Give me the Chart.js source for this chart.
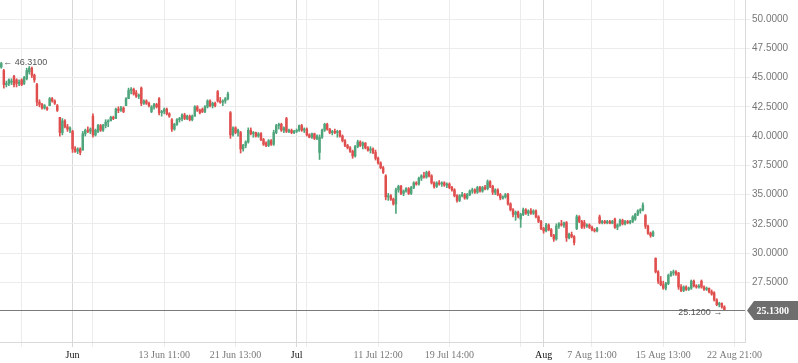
<!DOCTYPE html>
<html><head><meta charset="utf-8">
<script src="https://cdn.jsdelivr.net/npm/chart.js@4.4.1/dist/chart.umd.min.js"></script>
<style>html,body{margin:0;padding:0;background:#fff;overflow:hidden}#wrap{width:798px;height:363px}</style>
</head><body><div id="wrap"><canvas id="c" width="798" height="363"></canvas></div>
<script>
const opens=[
45.9,45.6,44.4,44.5,44.6,45.1,44.8,44.5,44.8,44.5,
44.9,45.5,45.8,45.2,44.4,42.9,42.7,42.4,42.4,42.6,
43.2,43.0,42.6,41.6,40.3,41.3,40.8,40.5,40.4,38.9,
38.7,38.9,38.8,40.2,40.5,40.4,41.7,40.1,40.4,40.9,
40.5,40.9,41.2,41.3,41.6,41.5,42.3,42.2,42.4,42.6,
43.2,43.9,44.0,43.7,43.4,44.1,42.8,43.0,42.8,42.1,
42.5,42.7,43.2,42.0,42.1,42.3,41.9,41.4,40.6,41.0,
41.4,41.5,41.8,41.5,41.7,41.4,41.7,42.5,42.2,42.3,
42.1,42.5,43.0,42.6,42.8,43.8,43.0,42.9,43.0,43.2,
42.0,40.1,40.7,40.3,40.3,38.9,39.2,39.5,40.5,40.2,
40.3,40.0,40.2,39.7,39.4,39.2,39.6,39.3,40.3,40.9,
41.0,40.5,41.5,40.4,40.5,40.3,40.4,40.5,40.9,40.5,
40.6,40.1,39.9,40.2,39.8,38.6,39.9,40.5,41.0,40.6,
40.3,40.4,40.3,40.4,40.0,39.6,39.2,39.0,38.7,38.3,
39.1,39.5,39.2,39.4,39.0,38.8,38.9,38.6,38.1,37.7,
37.3,36.6,34.8,34.9,34.6,34.2,35.4,35.7,35.1,35.3,
35.5,35.1,35.6,36.0,35.9,36.4,36.6,36.5,36.9,36.6,
36.0,35.7,36.0,35.9,36.0,35.8,35.9,35.6,35.4,34.9,
34.5,34.9,35.0,34.7,35.0,35.3,35.4,35.2,35.6,35.3,
35.6,35.5,36.1,35.7,35.2,35.4,35.0,34.7,34.8,35.0,
34.2,33.7,33.3,33.5,32.9,33.3,33.7,33.4,33.6,33.4,
33.6,33.1,32.7,32.1,31.9,32.4,32.0,31.5,31.2,32.3,
32.5,32.4,32.6,31.3,31.6,31.4,32.1,33.1,32.7,32.6,
32.3,32.4,32.2,32.0,31.9,33.1,32.6,32.7,32.6,32.7,
32.55,32.9,32.2,32.4,32.8,32.5,32.7,32.6,32.7,32.9,
33.3,33.6,33.7,33.2,32.3,31.7,31.5,29.55,28.4,27.6,
27.3,27.0,27.4,28.1,28.3,28.4,28.3,27.1,26.8,27.1,
26.9,27.0,27.6,27.2,27.1,27.6,27.1,26.9,27.0,26.7,
26.6,26.0,25.6,25.7,25.4];
const highs=[
46.31,45.7,44.7,44.9,44.9,45.2,44.9,44.8,44.9,45.1,
45.8,45.95,45.9,45.3,44.5,43.1,42.8,42.7,42.5,43.3,
43.3,43.1,42.7,41.6,41.5,41.4,41.0,40.8,40.5,39.1,
39.0,39.0,40.4,40.6,40.8,40.7,41.9,40.6,41.0,41.0,
41.0,41.4,41.4,41.7,41.7,42.4,42.5,42.55,42.5,43.3,
44.1,44.15,44.1,43.9,43.6,44.2,43.1,43.1,42.9,42.6,
42.8,42.8,43.3,42.2,42.4,42.4,42.0,41.5,41.1,41.5,
41.6,41.9,41.95,41.8,41.8,41.8,42.6,42.6,42.3,42.4,
42.6,43.1,43.1,42.9,42.9,43.9,43.3,43.1,43.3,43.75,
42.1,40.8,40.8,40.6,40.4,39.3,39.6,40.7,40.7,40.4,
40.35,40.3,40.3,39.8,39.5,39.7,39.7,40.5,41.0,41.1,
41.1,40.8,41.6,40.6,40.6,40.5,40.6,40.95,41.0,40.7,
40.7,40.2,40.25,40.25,40.1,40.1,40.6,41.1,41.1,40.65,
40.5,40.6,40.5,40.5,40.1,39.7,39.3,39.1,38.8,39.2,
39.65,39.6,39.5,39.45,39.1,39.1,39.0,38.8,38.2,37.8,
37.4,36.7,35.1,35.0,34.7,35.55,35.8,35.8,35.4,35.6,
35.6,35.7,36.1,36.1,36.5,36.7,36.9,37.0,37.0,36.7,
36.1,36.1,36.2,36.1,36.1,36.0,36.0,35.7,35.5,35.0,
35.0,35.2,35.1,35.1,35.4,35.55,35.5,35.7,35.7,35.7,
35.8,36.25,36.2,35.8,35.5,35.5,35.1,34.9,35.1,35.1,
34.3,33.8,33.6,33.6,33.4,33.85,33.8,33.7,33.8,33.7,
33.7,33.2,32.8,32.2,32.55,32.5,32.1,31.6,32.5,32.6,
32.8,32.65,32.7,31.7,31.8,31.5,33.25,33.2,32.8,32.8,
32.5,32.5,32.3,32.1,32.2,33.25,32.8,32.8,32.8,32.8,
32.8,33.0,32.5,32.9,32.9,32.8,32.8,32.8,33.2,33.4,
33.7,33.8,34.3,33.3,32.4,31.8,31.9,29.6,28.5,28.0,
27.6,27.5,28.2,28.45,28.55,28.5,28.35,27.3,27.2,27.2,
27.1,27.7,27.7,27.3,27.3,27.7,27.2,27.1,27.0,26.85,
26.7,26.1,25.8,25.75,25.5];
const lows=[
45.8,44.1,44.2,44.3,44.4,44.2,44.2,44.3,44.3,44.4,
44.8,45.3,45.0,44.6,42.6,42.5,42.3,42.3,42.2,42.6,
42.9,42.7,42.1,40.0,40.1,40.7,40.4,40.3,38.6,38.6,
38.5,38.4,38.8,40.0,40.3,40.2,39.9,40.0,40.3,40.4,
40.4,40.7,40.8,41.3,41.4,41.5,42.0,42.1,42.0,42.6,
43.2,43.6,43.5,43.3,43.2,42.6,42.7,42.7,42.5,42.0,
42.3,42.4,41.8,41.7,41.9,41.8,41.6,40.4,40.5,40.9,
41.2,41.3,41.4,41.4,41.3,41.3,41.7,42.1,41.9,42.0,
42.0,42.4,42.5,42.4,42.5,42.9,42.8,42.6,42.8,43.1,
39.8,40.0,40.2,40.0,38.55,38.7,39.0,39.4,40.1,39.9,
39.9,39.9,39.6,39.2,39.1,39.1,39.2,39.2,40.2,40.6,
40.4,40.3,40.3,40.3,40.2,40.2,40.3,40.4,40.4,40.3,
40.0,39.85,39.8,39.7,39.7,38.0,39.8,40.4,40.5,40.2,
40.1,40.2,39.9,39.9,39.5,39.1,38.9,38.6,38.1,38.2,
39.0,39.1,38.9,38.9,38.7,38.55,38.5,37.95,37.6,37.2,
36.8,34.55,34.5,34.5,34.1,33.4,35.2,35.0,34.9,35.2,
35.0,35.0,35.5,35.8,35.8,36.2,36.4,36.4,36.5,35.9,
35.55,35.6,35.8,35.7,35.7,35.6,35.5,35.3,34.8,34.35,
34.4,34.8,34.6,34.6,34.9,35.1,35.1,35.1,35.2,35.2,
35.4,35.4,35.6,35.0,35.0,34.9,34.55,34.6,34.7,34.1,
33.6,33.1,32.8,33.0,32.2,33.2,33.3,33.2,33.3,33.3,
33.0,32.6,32.0,31.7,31.8,31.9,31.4,31.0,31.1,32.1,
32.3,32.2,31.0,31.2,31.3,30.7,32.0,32.6,32.1,32.1,
32.2,32.1,31.9,31.8,31.8,32.5,32.5,32.5,32.5,32.5,
32.5,32.1,32.0,32.3,32.4,32.4,32.5,32.5,32.6,32.8,
33.2,33.4,33.6,32.1,31.6,31.35,31.4,28.3,27.4,27.2,
26.9,26.85,27.3,28.0,28.1,28.1,26.9,26.7,26.7,26.8,
26.8,26.9,27.1,27.0,27.0,27.0,26.8,26.8,26.6,26.4,
25.9,25.5,25.4,25.3,25.12];
const closes=[
46.2,44.4,44.5,44.8,44.7,44.4,44.5,44.6,44.4,45.0,
45.6,45.8,45.2,44.8,42.9,42.7,42.4,42.6,42.3,43.2,
43.0,42.8,42.2,40.3,41.3,40.8,40.6,40.7,38.9,38.7,
38.9,38.6,40.2,40.5,40.4,40.6,40.1,40.5,40.9,40.5,
40.9,41.2,41.3,41.6,41.5,42.3,42.2,42.4,42.1,43.2,
43.9,44.0,43.6,43.4,43.5,42.8,43.0,42.8,42.6,42.5,
42.7,42.5,42.0,42.1,42.3,41.9,41.7,40.6,41.0,41.4,
41.5,41.8,41.5,41.7,41.4,41.7,42.5,42.2,42.0,42.1,
42.5,43.0,42.6,42.8,42.6,43.0,42.9,43.0,43.2,43.6,
40.1,40.7,40.3,40.5,38.9,39.2,39.5,40.5,40.2,40.3,
40.0,40.2,39.7,39.3,39.2,39.6,39.3,40.3,40.9,41.0,
40.5,40.7,40.4,40.5,40.3,40.4,40.5,40.9,40.5,40.6,
40.1,39.9,40.2,39.8,40.0,39.9,40.5,41.0,40.6,40.3,
40.4,40.3,40.4,40.0,39.6,39.2,39.0,38.7,38.3,39.1,
39.5,39.2,39.4,39.0,38.8,38.9,38.6,38.1,37.7,37.3,
36.9,34.8,34.9,34.6,34.2,35.4,35.7,35.1,35.3,35.5,
35.1,35.6,36.0,35.9,36.4,36.6,36.5,36.9,36.6,36.0,
35.7,36.0,35.9,36.0,35.8,35.9,35.6,35.4,34.9,34.5,
34.9,35.0,34.7,35.0,35.3,35.4,35.2,35.6,35.3,35.6,
35.5,36.1,35.7,35.2,35.4,35.0,34.7,34.8,35.0,34.2,
33.7,33.3,33.5,33.1,33.3,33.7,33.4,33.6,33.4,33.6,
33.1,32.7,32.1,31.9,32.4,32.0,31.5,31.2,32.3,32.5,
32.4,32.6,31.3,31.6,31.4,30.9,33.1,32.7,32.2,32.3,
32.4,32.2,32.0,31.9,32.1,32.6,32.7,32.6,32.7,32.55,
32.7,32.2,32.4,32.8,32.5,32.7,32.6,32.7,33.1,33.3,
33.6,33.7,34.1,32.3,31.7,31.5,31.8,28.4,27.6,27.3,
27.0,27.4,28.1,28.3,28.4,28.2,27.1,26.8,27.1,26.9,
27.0,27.6,27.2,27.1,27.2,27.1,26.9,27.0,26.7,26.5,
26.0,25.6,25.7,25.4,25.13];

const xTickIndex=[8,28,36,64,92,116,120,148,176,204,213,232,260,288];
const xTickLabels=['','Jun','','13 Jun 11:00','21 Jun 13:00','Jul','','11 Jul 12:00','19 Jul 14:00','','Aug','7 Aug 11:00','15 Aug 13:00','22 Aug 21:00'];
const monthLabels=['Jun','Jul','Aug'];
const yTicks=[27.5,30,32.5,35,37.5,40,42.5,45,47.5,50];

const UP='#4fa57c', DOWN='#e04e4e';
const labelMap={}; xTickIndex.forEach((v,i)=>labelMap[v]=xTickLabels[i]);
const isMonth=v=>monthLabels.includes(labelMap[v]);
const candleColors=opens.map((o,i)=>closes[i]>=o?UP:DOWN);

const wickData=highs.map((h,i)=>({x:i,y:[lows[i],h]}));
const bodyData=opens.map((o,i)=>({x:i,y:[o,closes[i]]}));

const overlay={
  id:'overlay',
  afterDatasetsDraw(chart){
    const {ctx,chartArea,scales:{x,y}}=chart;
    const last=closes[closes.length-1];
    const py=Math.round(y.getPixelForValue(last))+0.5;
    ctx.save();
    ctx.strokeStyle='#7a7a7a'; ctx.lineWidth=1;
    ctx.beginPath(); ctx.moveTo(chartArea.left,py); ctx.lineTo(chartArea.right,py); ctx.stroke();
    const tx=chartArea.right+2, h=9.5;
    ctx.fillStyle='#6e6e6e';
    ctx.beginPath(); ctx.moveTo(tx,py); ctx.lineTo(tx+7,py-h); ctx.lineTo(798,py-h); ctx.lineTo(798,py+h); ctx.lineTo(tx+7,py+h); ctx.closePath(); ctx.fill();
    ctx.fillStyle='#ffffff'; ctx.font='bold 10px "Liberation Serif"'; ctx.textBaseline='middle'; ctx.textAlign='left';
    ctx.fillText(last.toFixed(4),tx+9.5,py+0.5);
    let hi=0, lo=0;
    highs.forEach((v,i)=>{if(v>highs[hi])hi=i;});
    lows.forEach((v,i)=>{if(v<lows[lo])lo=i;});
    ctx.fillStyle='#555'; ctx.font='9px "Liberation Sans"';
    ctx.textAlign='left';
    ctx.fillText('\u2190 '+highs[hi].toFixed(4), x.getPixelForValue(hi)+2, y.getPixelForValue(highs[hi]));
    ctx.textAlign='right';
    ctx.fillText(lows[lo].toFixed(4)+' \u2192', x.getPixelForValue(lo)-2, y.getPixelForValue(lows[lo])+2.5);
    ctx.restore();
  }
};

new Chart(document.getElementById('c'),{
  type:'bar',
  data:{datasets:[
    {data:wickData,backgroundColor:candleColors,barThickness:1,grouped:false,borderWidth:0},
    {data:bodyData,backgroundColor:candleColors,barThickness:1.8,grouped:false,borderWidth:0,minBarLength:1}
  ]},
  options:{
    responsive:false,animation:false,devicePixelRatio:1,
    layout:{padding:0},
    plugins:{legend:{display:false},tooltip:{enabled:false}},
    scales:{
      x:{type:'linear',min:-0.5,max:292.1,bounds:'data',offset:false,
        afterBuildTicks:s=>{s.ticks=xTickIndex.map(v=>({value:v}));},
        afterFit:s=>{s.height=21;s.paddingLeft=0;s.paddingRight=0;},
        ticks:{autoSkip:false,maxRotation:0,minRotation:0,padding:2,
          font:{family:'Liberation Serif',size:10},
          color:c=>isMonth(c.tick.value)?'#111':'#777',
          callback:v=>labelMap[v]??''},
        grid:{offset:false,color:c=>(c.tick&&isMonth(c.tick.value))?'#d8d8d8':'#ececec',tickLength:5,drawTicks:true},
        border:{color:'#d9d9d9'}
      },
      y:{type:'linear',position:'right',min:22.4,max:51.63,bounds:'data',
        afterBuildTicks:s=>{s.ticks=yTicks.map(v=>({value:v}));},
        afterFit:s=>{s.width=53;s.paddingTop=0;s.paddingBottom=0;},
        ticks:{padding:2,font:{family:'Liberation Sans',size:10},color:'#777',callback:v=>Number(v).toFixed(4)},
        grid:{offset:false,color:'#ececec',tickLength:5},
        border:{color:'#d9d9d9'}
      }
    }
  },
  plugins:[overlay]
});
</script></body></html>
